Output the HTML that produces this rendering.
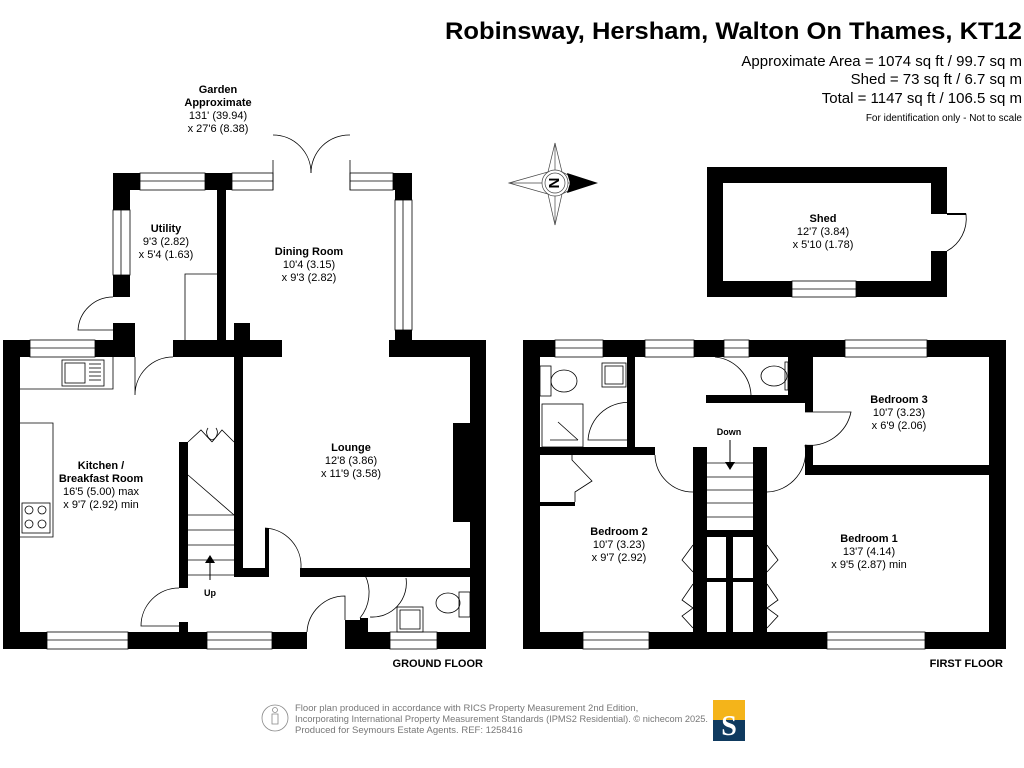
<!DOCTYPE html>
<html><head><meta charset="utf-8"><style>
html,body{margin:0;padding:0;background:#fff;}
svg{display:block;font-family:"Liberation Sans",Arial,sans-serif;}
.b{font-weight:bold;font-size:11px;}
.n{font-size:11px;}
</style></head><body>
<svg width="1024" height="768" viewBox="0 0 1024 768" xmlns="http://www.w3.org/2000/svg">
<rect width="1024" height="768" fill="#fff"/>
<!-- header -->
<text x="445" y="39" font-size="24" font-weight="bold" textLength="577" lengthAdjust="spacingAndGlyphs">Robinsway, Hersham, Walton On Thames, KT12</text>
<text x="1022" y="66" text-anchor="end" font-size="15">Approximate Area = 1074 sq ft / 99.7 sq m</text>
<text x="1022" y="84" text-anchor="end" font-size="15">Shed = 73 sq ft / 6.7 sq m</text>
<text x="1022" y="103" text-anchor="end" font-size="15">Total = 1147 sq ft / 106.5 sq m</text>
<text x="1022" y="121" text-anchor="end" font-size="10">For identification only - Not to scale</text>

<!-- compass -->
<g stroke="#444" stroke-width="0.7" fill="none">
<polygon points="555,143 562,172 584,183 562,194 555,225 548,194 509,183 548,172"/>
<line x1="555" y1="143" x2="555" y2="225"/><line x1="509" y1="183" x2="584" y2="183"/>
<circle cx="555" cy="183" r="13" fill="#fff"/><circle cx="555" cy="183" r="10"/>
</g>
<polygon points="567,173 598,183 567,193 570,183" fill="#000"/>
<text x="555" y="189" text-anchor="middle" font-size="15" font-weight="bold" transform="rotate(90 555 183)">N</text>

<!-- Garden label -->
<text x="218" y="93" text-anchor="middle" class="b">Garden</text>
<text x="218" y="106" text-anchor="middle" class="b">Approximate</text>
<text x="218" y="119" text-anchor="middle" class="n">131' (39.94)</text>
<text x="218" y="132" text-anchor="middle" class="n">x 27'6 (8.38)</text>

<!-- SHED -->
<g fill="#000">
<rect x="707" y="167" width="240" height="16"/>
<rect x="707" y="167" width="16" height="130"/>
<rect x="707" y="281" width="240" height="16"/>
<rect x="931" y="167" width="16" height="47"/>
<rect x="931" y="251" width="16" height="46"/>
</g>
<rect x="792" y="281" width="64" height="16" fill="#fff" stroke="#000" stroke-width="0.8"/>
<line x1="792" y1="289" x2="856" y2="289" stroke="#000" stroke-width="0.8"/>
<path d="M947 214 H966 A37 37 0 0 1 947 251" fill="none" stroke="#000" stroke-width="0.8"/>
<line x1="947" y1="214" x2="966" y2="214" stroke="#000" stroke-width="2"/>
<text x="823" y="222" text-anchor="middle" class="b">Shed</text>
<text x="823" y="235" text-anchor="middle" class="n">12'7 (3.84)</text>
<text x="823" y="248" text-anchor="middle" class="n">x 5'10 (1.78)</text>

<!-- GROUND FLOOR walls -->
<g fill="#000">
<rect x="3" y="340" width="17" height="309"/>
<rect x="3" y="632" width="304" height="17"/>
<rect x="345" y="632" width="141" height="17"/>
<rect x="470" y="340" width="16" height="309"/>
<rect x="3" y="340" width="27" height="17"/>
<rect x="95" y="340" width="40" height="17"/>
<rect x="173" y="340" width="109" height="17"/>
<rect x="389" y="340" width="97" height="17"/>
<rect x="113" y="323" width="22" height="20"/>
<rect x="113" y="173" width="17" height="124"/>
<rect x="113" y="173" width="27" height="17"/>
<rect x="205" y="173" width="27" height="17"/>
<rect x="217" y="173" width="9" height="170"/>
<rect x="393" y="173" width="19" height="17"/>
<rect x="395" y="173" width="17" height="27"/>
<rect x="395" y="330" width="17" height="15"/>
<rect x="234" y="323" width="16" height="20"/>
<rect x="234" y="357" width="9" height="220"/>
<rect x="234" y="568" width="31" height="9"/>
<rect x="300" y="568" width="186" height="9"/>
<rect x="453" y="423" width="17" height="99"/>
<rect x="179" y="442" width="9" height="146"/>
<rect x="179" y="622" width="9" height="12"/>
<rect x="360" y="618" width="8" height="16"/>
<rect x="345" y="620" width="15" height="14"/>
<rect x="265" y="528" width="4" height="49"/>
</g>
<g fill="#fff" stroke="#000" stroke-width="0.8">
<rect x="30" y="340" width="65" height="17"/>
<rect x="140" y="173" width="65" height="17"/>
<rect x="232" y="173" width="41" height="17"/>
<rect x="350" y="173" width="43" height="17"/>
<rect x="113" y="210" width="17" height="65"/>
<rect x="395" y="200" width="17" height="130"/>
<rect x="47" y="632" width="81" height="17"/>
<rect x="207" y="632" width="65" height="17"/>
<rect x="390" y="632" width="47" height="17"/>
</g>
<g stroke="#000" stroke-width="0.8" fill="none">
<line x1="30" y1="348" x2="95" y2="348"/><line x1="140" y1="181" x2="205" y2="181"/>
<line x1="232" y1="181" x2="273" y2="181"/><line x1="350" y1="181" x2="393" y2="181"/>
<line x1="121" y1="210" x2="121" y2="275"/><line x1="403" y1="200" x2="403" y2="330"/>
<line x1="47" y1="640" x2="128" y2="640"/><line x1="207" y1="640" x2="272" y2="640"/><line x1="390" y1="640" x2="437" y2="640"/>
<line x1="273" y1="160" x2="273" y2="190"/><line x1="350" y1="160" x2="350" y2="190"/>
<path d="M273 135 A38 38 0 0 1 311 173"/><path d="M350 135 A38 38 0 0 0 311 173"/>
<path d="M113 297 A35 35 0 0 0 78 330 H113"/>
<path d="M135 357 V395 A38 38 0 0 1 173 357" />
<path d="M185 340 V274 H217"/>
<path d="M20 389 H113 V357"/>
<path d="M20 423 H53 V537 H20"/>
<rect x="62" y="360" width="42" height="26"/>
<rect x="65" y="363" width="20" height="20"/>
<line x1="89" y1="364" x2="101" y2="364"/><line x1="89" y1="368" x2="101" y2="368"/><line x1="89" y1="372" x2="101" y2="372"/><line x1="89" y1="376" x2="101" y2="376"/><line x1="89" y1="380" x2="101" y2="380"/>
<rect x="22" y="503" width="28" height="30"/>
<circle cx="29" cy="510" r="4"/><circle cx="42" cy="510" r="4"/><circle cx="29" cy="524" r="4"/><circle cx="42" cy="524" r="4"/>
<line x1="188" y1="475" x2="234" y2="515"/>
<line x1="188" y1="515" x2="234" y2="515"/><line x1="188" y1="530" x2="234" y2="530"/>
<line x1="188" y1="545" x2="234" y2="545"/><line x1="188" y1="560" x2="234" y2="560"/>
<line x1="188" y1="575" x2="234" y2="575"/>
<path d="M188 442 L201 430 L212 442 M234 442 L222 430 L212 442"/>
<path d="M212 440 A8 8 0 0 1 208 428 M212 440 A8 8 0 0 0 216 428"/>
<path d="M179 588 A38 38 0 0 0 141 626 H179"/>
<path d="M265 528 A38 38 0 0 1 301 568"/>
<path d="M345 620 V596 A38 38 0 0 0 307 632"/>
<path d="M365 575 A40 40 0 0 1 360 618"/>
<path d="M406 578 A34 34 0 0 1 370 617"/>
<rect x="397" y="607" width="26" height="25"/><rect x="400" y="610" width="20" height="19"/>
<ellipse cx="448" cy="603" rx="12" ry="10"/><rect x="459" y="592" width="11" height="25"/>
</g>
<line x1="210" y1="580" x2="210" y2="562" stroke="#000" stroke-width="1"/>
<polygon points="205,563 215,563 210,555" fill="#000"/>
<text x="210" y="596" text-anchor="middle" font-size="9" font-weight="bold">Up</text>

<text x="166" y="232" text-anchor="middle" class="b">Utility</text>
<text x="166" y="245" text-anchor="middle" class="n">9'3 (2.82)</text>
<text x="166" y="258" text-anchor="middle" class="n">x 5'4 (1.63)</text>
<text x="309" y="255" text-anchor="middle" class="b">Dining Room</text>
<text x="309" y="268" text-anchor="middle" class="n">10'4 (3.15)</text>
<text x="309" y="281" text-anchor="middle" class="n">x 9'3 (2.82)</text>
<text x="351" y="451" text-anchor="middle" class="b">Lounge</text>
<text x="351" y="464" text-anchor="middle" class="n">12'8 (3.86)</text>
<text x="351" y="477" text-anchor="middle" class="n">x 11'9 (3.58)</text>
<text x="101" y="469" text-anchor="middle" class="b">Kitchen /</text>
<text x="101" y="482" text-anchor="middle" class="b">Breakfast Room</text>
<text x="101" y="495" text-anchor="middle" class="n">16'5 (5.00) max</text>
<text x="101" y="508" text-anchor="middle" class="n">x 9'7 (2.92) min</text>
<text x="483" y="667" text-anchor="end" class="b">GROUND FLOOR</text>

<!-- FIRST FLOOR -->
<g fill="#000">
<rect x="523" y="340" width="483" height="17"/>
<rect x="523" y="340" width="17" height="308"/>
<rect x="989" y="340" width="17" height="308"/>
<rect x="523" y="632" width="483" height="17"/>
<rect x="627" y="357" width="8" height="90"/>
<rect x="540" y="447" width="115" height="8"/>
<rect x="693" y="447" width="14" height="185"/>
<rect x="753" y="447" width="14" height="185"/>
<rect x="726" y="530" width="7" height="102"/>
<rect x="707" y="530" width="46" height="7"/>
<rect x="707" y="578" width="46" height="4"/>
<rect x="706" y="395" width="107" height="8"/>
<rect x="788" y="357" width="25" height="46"/>
<rect x="805" y="357" width="8" height="55"/>
<rect x="805" y="445" width="8" height="30"/>
<rect x="805" y="465" width="184" height="10"/>
<rect x="540" y="502" width="35" height="4"/>
</g>
<g fill="#fff" stroke="#000" stroke-width="0.8">
<rect x="555" y="340" width="48" height="17"/>
<rect x="645" y="340" width="49" height="17"/>
<rect x="724" y="340" width="25" height="17"/>
<rect x="845" y="340" width="82" height="17"/>
<rect x="583" y="632" width="66" height="17"/>
<rect x="827" y="632" width="98" height="17"/>
<rect x="707" y="450" width="46" height="80" stroke="none"/>
</g>
<g stroke="#000" stroke-width="0.8" fill="none">
<line x1="555" y1="348" x2="603" y2="348"/><line x1="645" y1="348" x2="694" y2="348"/>
<line x1="724" y1="348" x2="749" y2="348"/><line x1="845" y1="348" x2="927" y2="348"/>
<line x1="583" y1="640" x2="649" y2="640"/><line x1="827" y1="640" x2="925" y2="640"/>
<line x1="707" y1="463" x2="753" y2="463"/><line x1="707" y1="477" x2="753" y2="477"/>
<line x1="707" y1="490" x2="753" y2="490"/><line x1="707" y1="503" x2="753" y2="503"/><line x1="707" y1="517" x2="753" y2="517"/>
<rect x="540" y="366" width="11" height="30"/><ellipse cx="564" cy="381" rx="13" ry="11"/>
<rect x="602" y="363" width="24" height="24"/><rect x="605" y="366" width="18" height="18"/>
<rect x="542" y="404" width="41" height="43"/><line x1="558" y1="422" x2="578" y2="440"/><line x1="550" y1="440" x2="578" y2="440"/>
<path d="M635 403 A40 40 0 0 0 588 440 H627"/>
<path d="M715 357 A40 40 0 0 1 751 395"/>
<ellipse cx="774" cy="376" rx="13" ry="10"/><rect x="785" y="362" width="3" height="28"/>
<path d="M655 455 A38 38 0 0 0 693 492"/>
<path d="M805 412 H851 A42 42 0 0 1 805 445"/>
<path d="M805 445 A40 40 0 0 1 767 492"/>
<path d="M572 455 V460 L592 481 L575 492 V502"/>
<path d="M693 545 L682 560 L693 572 M767 545 L778 560 L767 572"/>
<path d="M693 584 L682 600 L693 608 L682 616 L693 628 M767 584 L778 600 L767 608 L778 616 L767 628"/>
</g>
<line x1="730" y1="440" x2="730" y2="462" stroke="#000" stroke-width="1"/>
<polygon points="725,462 735,462 730,470" fill="#000"/>
<text x="729" y="435" text-anchor="middle" font-size="9" font-weight="bold">Down</text>

<text x="899" y="403" text-anchor="middle" class="b">Bedroom 3</text>
<text x="899" y="416" text-anchor="middle" class="n">10'7 (3.23)</text>
<text x="899" y="429" text-anchor="middle" class="n">x 6'9 (2.06)</text>
<text x="619" y="535" text-anchor="middle" class="b">Bedroom 2</text>
<text x="619" y="548" text-anchor="middle" class="n">10'7 (3.23)</text>
<text x="619" y="561" text-anchor="middle" class="n">x 9'7 (2.92)</text>
<text x="869" y="542" text-anchor="middle" class="b">Bedroom 1</text>
<text x="869" y="555" text-anchor="middle" class="n">13'7 (4.14)</text>
<text x="869" y="568" text-anchor="middle" class="n">x 9'5 (2.87) min</text>
<text x="1003" y="667" text-anchor="end" class="b">FIRST FLOOR</text>

<!-- footer -->
<g stroke="#888" stroke-width="0.8" fill="none">
<circle cx="275" cy="718" r="13"/><circle cx="275" cy="710" r="2.5"/><path d="M272 714 H278 V724 H272 Z"/>
</g>
<g font-size="9.5" fill="#777">
<text x="295" y="711">Floor plan produced in accordance with RICS Property Measurement 2nd Edition,</text>
<text x="295" y="722" textLength="413" lengthAdjust="spacingAndGlyphs">Incorporating International Property Measurement Standards (IPMS2 Residential).   © nichecom 2025.</text>
<text x="295" y="733">Produced for Seymours Estate Agents.   REF: 1258416</text>
</g>
<rect x="713" y="700" width="32" height="20" fill="#f4b41a"/>
<rect x="713" y="720" width="32" height="21" fill="#0f3a5f"/>
<text x="729" y="735" text-anchor="middle" font-family="Liberation Serif,serif" font-size="28" font-weight="bold" fill="#fff">S</text>
</svg>
</body></html>
